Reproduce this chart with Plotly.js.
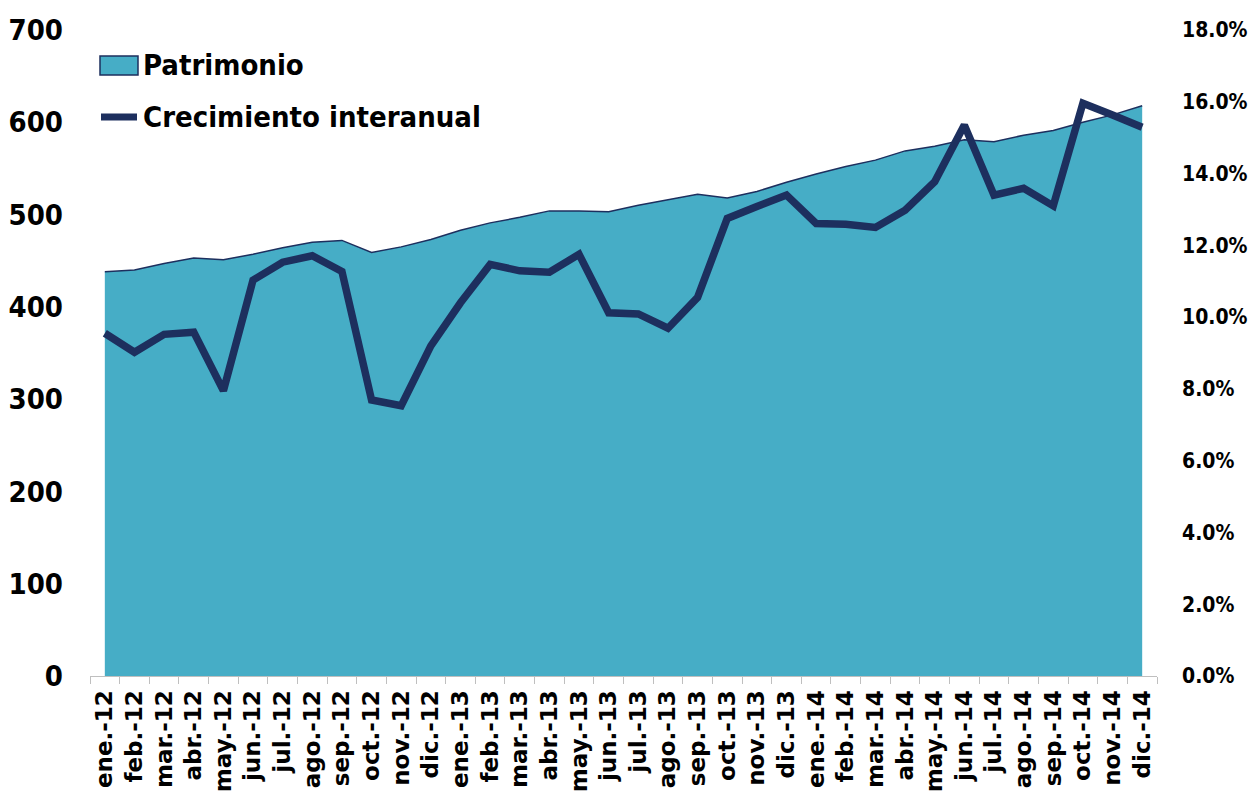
<!DOCTYPE html>
<html>
<head>
<meta charset="utf-8">
<script src="https://cdn.plot.ly/plotly-3.0.1.min.js"></script>
<style>
  html, body { margin: 0; padding: 0; background: #fff; }
  #chart { width: 1252px; height: 802px; }
</style>
</head>
<body>
<div id="chart"></div>
<script>
const MONTHS = [
  'ene.-12', 'feb.-12', 'mar.-12', 'abr.-12', 'may.-12', 'jun.-12',
  'jul.-12', 'ago.-12', 'sep.-12', 'oct.-12', 'nov.-12', 'dic.-12',
  'ene.-13', 'feb.-13', 'mar.-13', 'abr.-13', 'may.-13', 'jun.-13',
  'jul.-13', 'ago.-13', 'sep.-13', 'oct.-13', 'nov.-13', 'dic.-13',
  'ene.-14', 'feb.-14', 'mar.-14', 'abr.-14', 'may.-14', 'jun.-14',
  'jul.-14', 'ago.-14', 'sep.-14', 'oct.-14', 'nov.-14', 'dic.-14',
];

// Patrimonio (left axis)
const PATRIMONIO = [
  438, 440, 447, 453, 451, 457, 464, 470, 472, 459, 465, 473,
  483, 491, 497, 504, 504, 503, 510, 516, 522, 518, 525, 535,
  544, 552, 559, 569, 574, 581, 579, 586, 591, 600, 608, 618,
];

// Crecimiento interanual, in % (right axis)
const CRECIMIENTO = [
  9.55, 9.02, 9.52, 9.58, 7.95, 11.03, 11.53, 11.71, 11.27, 7.69, 7.53, 9.20,
  10.40, 11.47, 11.29, 11.25, 11.75, 10.12, 10.09, 9.69, 10.55, 12.75, 13.08, 13.40,
  12.61, 12.59, 12.50, 12.98, 13.77, 15.35, 13.40, 13.59, 13.10, 15.96, 15.63, 15.29,
];

const SERIES_NAMES = ['Patrimonio', 'Crecimiento interanual'];

const AREA_FILL = '#46adc6';
const NAVY = '#1d2f5e';
const HFONT = 'DejaVu Sans Condensed, DejaVu Sans, sans-serif';

const data = [
  {
    type: 'scatter',
    name: SERIES_NAMES[0],
    x: MONTHS,
    y: PATRIMONIO,
    mode: 'lines',
    fill: 'tozeroy',
    fillcolor: AREA_FILL,
    line: { color: NAVY, width: 1.5 },
    hoverinfo: 'skip',
    showlegend: false,
  },
  {
    type: 'scatter',
    name: SERIES_NAMES[1],
    x: MONTHS,
    y: CRECIMIENTO,
    yaxis: 'y2',
    mode: 'lines',
    line: { color: NAVY, width: 7.5 },
    hoverinfo: 'skip',
    showlegend: false,
  },
];

// legend drawn by hand in paper coords (plot area 90..1157 x 30..676)
const px = v => (v - 90) / 1067;
const py = v => (676 - v) / 646;

const layout = {
  width: 1252,
  height: 802,
  margin: { l: 90, r: 95, t: 30, b: 126 },
  paper_bgcolor: '#ffffff',
  plot_bgcolor: '#ffffff',
  showlegend: false,
  xaxis: {
    type: 'category',
    range: [-0.5, MONTHS.length - 0.5],
    tickson: 'boundaries',
    ticks: 'outside',
    ticklen: 7,
    tickcolor: '#bfbfbf',
    showline: true,
    linecolor: '#bfbfbf',
    linewidth: 1,
    showgrid: false,
    tickangle: -90,
    ticklabelstandoff: 4,
    tickfont: { family: 'DejaVu Sans, sans-serif', size: 23, weight: 'bold', color: '#000' },
  },
  yaxis: {
    range: [0, 700],
    dtick: 100,
    showgrid: false,
    zeroline: false,
    showline: false,
    ticks: '',
    ticklabelstandoff: 26,
    tickfont: { family: HFONT, size: 29, weight: 'bold', color: '#000' },
  },
  yaxis2: {
    overlaying: 'y',
    side: 'right',
    range: [0, 18],
    dtick: 2,
    tickformat: '.1f',
    ticksuffix: '%',
    showgrid: false,
    zeroline: false,
    showline: false,
    ticks: '',
    ticklabelstandoff: 24,
    tickfont: { family: HFONT, size: 21, weight: 'bold', color: '#000' },
  },
  shapes: [
    {
      type: 'rect', xref: 'paper', yref: 'paper',
      x0: px(100), x1: px(138), y0: py(75), y1: py(56),
      fillcolor: AREA_FILL, line: { color: NAVY, width: 1.5 },
    },
    {
      type: 'line', xref: 'paper', yref: 'paper',
      x0: px(101), x1: px(137), y0: py(117), y1: py(117),
      line: { color: NAVY, width: 7 },
    },
  ],
  annotations: SERIES_NAMES.map((name, i) => ({
    text: name,
    xref: 'paper', yref: 'paper',
    x: px(141), y: py(i === 0 ? 65 : 117),
    xanchor: 'left', yanchor: 'middle',
    showarrow: false,
    font: { family: HFONT, size: 29, weight: 'bold', color: '#000' },
  })),
};

Plotly.newPlot('chart', data, layout, { displayModeBar: false, staticPlot: true });
</script>
</body>
</html>
